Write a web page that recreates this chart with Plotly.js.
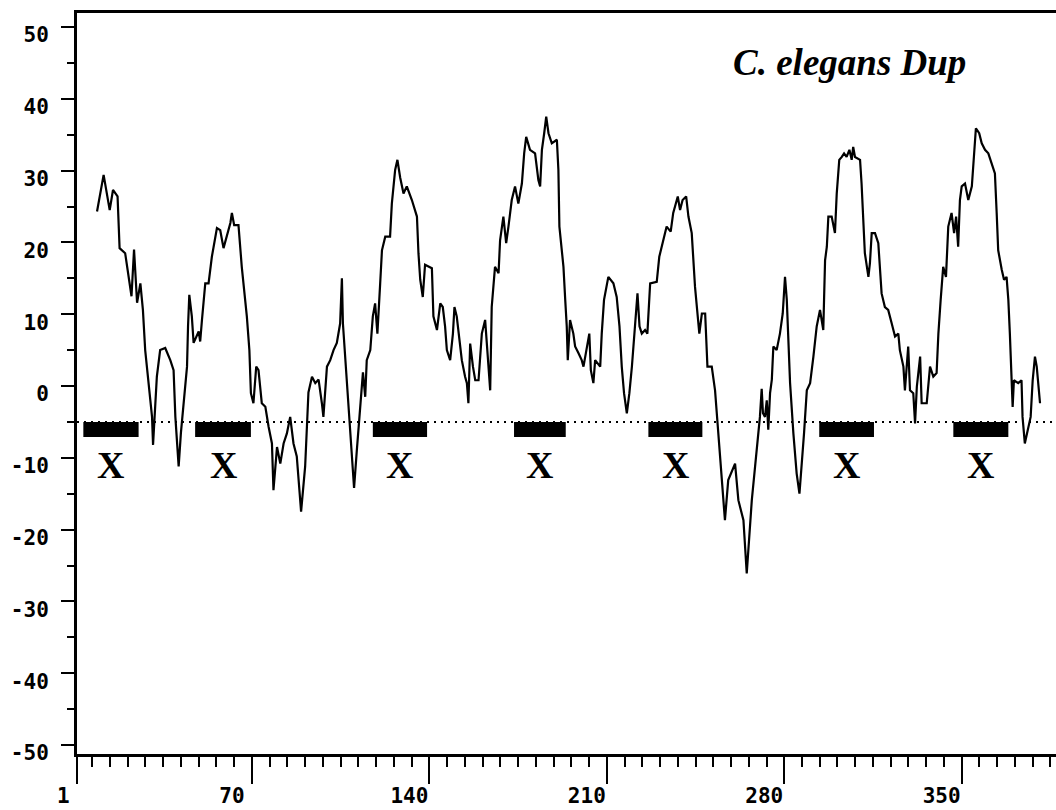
<!DOCTYPE html>
<html>
<head>
<meta charset="utf-8">
<script src="https://cdn.plot.ly/plotly-3.0.1.min.js"></script>
<style>html,body{margin:0;padding:0;background:#fff;}#chart{width:1056px;height:810px;}</style>
</head>
<body>
<div id="chart"></div>
<script>
// Residue positions and profile values
const residue = [8.9,11.5,13.9,15.2,17,17.8,20,21.3,22.5,23.5,24.7,26,27,27.9,29.2,30.6,31,31.9,32.5,33.8,35.8,37.8,39.1,39.8,41.1,42,43.3,44.4,44.8,45.3,46.3,47,49,49.6,50.3,51.6,52.9,54.2,56.2,57.5,58.8,60.1,61.5,62.1,63,64.7,66,68,69,69.6,70.6,71.7,72.6,73.9,75.3,76.6,77.9,78.5,79.9,81.2,82.5,83.8,85.1,86.4,87.7,89.4,91,92.3,93.7,95,96.3,97.6,98.2,99.6,100.9,102.2,103.5,104.8,105.5,105.9,106.8,108.1,109.4,110.3,111.4,112.7,113.8,114.7,115.3,116.7,117.7,118.6,119.5,120.6,121.3,122.6,124.5,125.2,126.5,127.4,128.5,129.8,131.1,133.1,135.1,135.7,136.4,137.4,138.3,141,141.6,143,144.3,145.3,146.2,146.9,148.2,149.3,149.9,150.8,151.9,152.8,154.1,154.8,155.4,156.1,157.2,158.1,159.4,160.7,162,162.9,164,164.6,165.9,167.3,167.9,169.2,170.3,171.2,172.5,173.8,175.1,176.5,177.4,178.2,179.7,181.7,183,183.7,184.4,185.3,186.1,187,188.3,190.3,190.9,191.3,192.9,193.6,194.2,194.6,195.5,196.8,197.5,198.8,200.1,200.8,202.1,203.1,203.7,204.7,205.4,207.4,208,208.9,210.6,212.6,213.9,215,215.9,216.8,217.9,218.9,219.9,221.2,222.1,222.9,223.8,225.1,226,227.1,229.7,230.7,232.3,233.6,235.2,236.2,238,238.9,239.9,241.3,242.2,243.5,244.8,245.7,246.5,247.5,248.8,249.7,251.4,252.7,254,255,256.6,257.9,260.6,261.9,263.9,265.2,267.2,268.5,269.8,270.4,271.1,271.6,272.4,273.1,273.7,274.4,275.1,275.7,277,278.3,279.4,280.3,281,281.6,282.3,283.6,284.9,286,286.9,287.8,288.9,290.2,291.5,292.8,294.1,295.4,295.7,296.1,296.8,297.4,298.7,300,300.7,301.7,302.7,303.6,304.6,305.7,306.6,307.2,307.9,309.9,310.5,311.2,311.8,313.2,313.8,314.5,315.8,317.1,317.8,318.4,319.7,321,322.4,323.7,325,325.6,327,327.6,328.9,329.6,330.9,331.6,332.3,333.6,334.2,336.2,337.5,338.8,340.1,340.8,341.7,342.7,343.8,344.7,346,347,347.8,348.6,349.3,350,351.3,352.6,354,354.8,355.6,356.9,357.9,359.2,360.5,361.8,363.1,363.8,364.4,365.8,366.7,367.7,368.4,369,369.7,370.1,370.6,372.3,373.6,374,374.9,376.2,377.2,378,378.9,379.6,380.2,380.9];
const profile = [24.3,29.4,24.5,27.3,26.4,19.2,18.5,15.2,12.5,19,11.6,14.3,10.6,5,0.4,-4.3,-8.2,-2.9,1.3,5,5.3,3.6,2.2,-4.3,-11.2,-6.5,-2,2.7,8.3,12.7,9.7,6,7.6,6.2,9.2,14.3,14.3,18,22,21.7,19.2,20.8,22.7,24.1,22.4,22.4,16.6,9.7,5,-1,-2.4,2.7,2.2,-2.4,-2.9,-5.7,-8,-14.5,-8.5,-10.8,-8,-6.6,-4.3,-8,-9.8,-17.5,-11.2,-0.9,1.3,0.4,0.9,-2.4,-4.3,2.7,3.6,5,6,8.7,15,8.7,4.1,-2,-8.9,-14.2,-8.9,-2.4,1.9,-1.5,3.6,5,9.7,11.5,7.3,14.3,18.9,20.8,20.8,25.4,30.1,31.5,29,26.8,27.8,25.9,23.6,18.5,14.8,12.4,16.9,16.4,9.7,7.8,11.5,11,8.3,5,3.6,7.3,11,9.7,6.4,3.6,1.3,0.4,-2.4,5.9,2.7,0.8,0.8,7.3,9.2,4.6,-0.6,11,16.6,15.7,20.3,23.6,19.9,22.2,25.9,27.8,25.4,28.2,32.4,34.7,32.9,32.4,28.7,27.8,32.9,35.2,37.5,35.2,33.8,34.3,30.1,22.2,16.6,12,8.3,3.6,9.2,7.3,5.5,4.6,3.6,2.7,5.5,7.3,2.2,0.4,3.6,2.7,7.3,12,15.2,14.3,12.4,8.3,2.7,-1,-3.8,-1,2.7,8.3,12.9,8.3,7.3,7.8,7.3,14.3,14.5,18,20.3,22.2,21.5,24.1,26.4,24.5,25.9,26.4,23.6,21.3,13.8,10.1,7.3,10.1,10.1,2.7,2.7,-0.6,-6.6,-10.3,-18.7,-13.1,-10.8,-15.9,-18.7,-26.1,-15.9,-11.2,-6.6,-4.3,-0.4,-3.8,-4.3,-2,-6.1,-1,0.9,5.5,5,7.3,10.1,15.2,12,7.3,0.4,-6.6,-12.2,-15,-11.2,-6.6,-0.6,0.4,4.1,8.3,10.6,7.8,12,17.5,19.4,23.6,23.6,21.3,26.8,31.5,31.9,32.4,31.9,32.9,31.5,33.3,31.9,31.5,28.2,23.6,18.5,15.2,17.1,21.3,21.3,19.9,16.6,12.9,11,10.6,8.7,6.9,7.3,5,2.7,-0.6,5.5,-0.6,-1,-5.2,-0.1,4.1,-2.4,-2.4,2.7,1.3,1.8,7.3,12,16.6,15.2,22.2,24.1,21.3,23.6,19.4,25.9,27.8,28.2,25.9,27.8,31.5,35.9,35.2,33.8,32.9,32.4,31,29.6,24.1,18.9,16.2,14.8,15.2,12,7.3,0.8,-2.9,0.8,0.4,0.8,-4.3,-8,-5.7,-4.3,0.8,4.1,2.7,0.4,-2.4];

// Marked repeat segments (black bars) and their labels
const segStart = [3.5, 47.6, 117.7, 173.4, 226.4, 293.8, 346.7];
const segEnd   = [25.3, 69.6, 139.1, 193.8, 247.7, 315.4, 368.4];
const segLabel = ["X","X","X","X","X","X","X"];
const thresholdValue = -5;
const barBottom = -7.1;
const labelY = -11;

const xTickVals = [1, 70, 140, 210, 280, 350];
const xTickText = ["\u00a01", "70", "140", "210", "280", "350"];
const yTickVals = [-50, -40, -30, -20, -10, 0, 10, 20, 30, 40, 50];
const yTickText = ["-50", "-40", "-30", "-20", "-10", "0", "10", "20", "30", "40", "50"];
const titleText = "C. elegans Dup";

const X_MIN = 1, X_MAX = 387.2;

const shapes = [];
shapes.push({type:'line', xref:'x', yref:'y', x0:X_MIN, x1:X_MAX, y0:thresholdValue, y1:thresholdValue,
  line:{color:'black', width:2, dash:'2px,5px'}});
for (let i = 0; i < segStart.length; i++) {
  shapes.push({type:'rect', xref:'x', yref:'y', x0:segStart[i], x1:segEnd[i], y0:thresholdValue, y1:barBottom,
    fillcolor:'black', line:{width:0}});
}

const annotations = [];
for (let i = 0; i < segStart.length; i++) {
  annotations.push({x:(segStart[i]+segEnd[i])/2, y:labelY, xref:'x', yref:'y', text:segLabel[i], showarrow:false,
    xanchor:'center', yanchor:'middle',
    font:{family:'Liberation Serif', size:38, weight:'bold', color:'black'}});
}
annotations.push({x:305.9, y:45, xref:'x', yref:'y', text:'<i>'+titleText+'</i>', showarrow:false,
  xanchor:'center', yanchor:'middle',
  font:{family:'Liberation Serif', size:37, weight:'bold', color:'black'}});

const tickFont = {family:'DejaVu Sans Mono', size:21, weight:'bold', color:'black'};

const trace = {x: residue, y: profile, type:'scatter', mode:'lines',
  line:{color:'black', width:2.2, shape:'linear'}, hoverinfo:'skip'};

const layout = {
  width:1056, height:810,
  margin:{l:77, r:0, t:13, b:56, pad:0},
  paper_bgcolor:'white', plot_bgcolor:'white',
  showlegend:false,
  xaxis:{range:[X_MIN, X_MAX], tickmode:'array', tickvals:xTickVals, ticktext:xTickText,
    ticks:'outside', ticklen:27, tickwidth:2, tickcolor:'black',
    showline:true, linecolor:'black', linewidth:3, mirror:true,
    showgrid:false, zeroline:false, tickfont:tickFont, ticklabelshift:-20, ticklabelstandoff:-6,
    minor:{tick0:0, dtick:7, ticks:'outside', ticklen:10, tickwidth:2, tickcolor:'black', showgrid:false}},
  yaxis:{range:[-51.25, 51.95], tickmode:'array', tickvals:yTickVals, ticktext:yTickText,
    ticks:'outside', ticklen:13, tickwidth:2, tickcolor:'black',
    showline:true, linecolor:'black', linewidth:3, mirror:false,
    showgrid:false, zeroline:false, tickfont:tickFont, ticklabelshift:8, ticklabelstandoff:8,
    minor:{tick0:0, dtick:5, ticks:'outside', ticklen:7, tickwidth:2, tickcolor:'black', showgrid:false}},
  shapes: shapes,
  annotations: annotations
};

Plotly.newPlot('chart', [trace], layout, {staticPlot:true, displayModeBar:false});
</script>
</body>
</html>
